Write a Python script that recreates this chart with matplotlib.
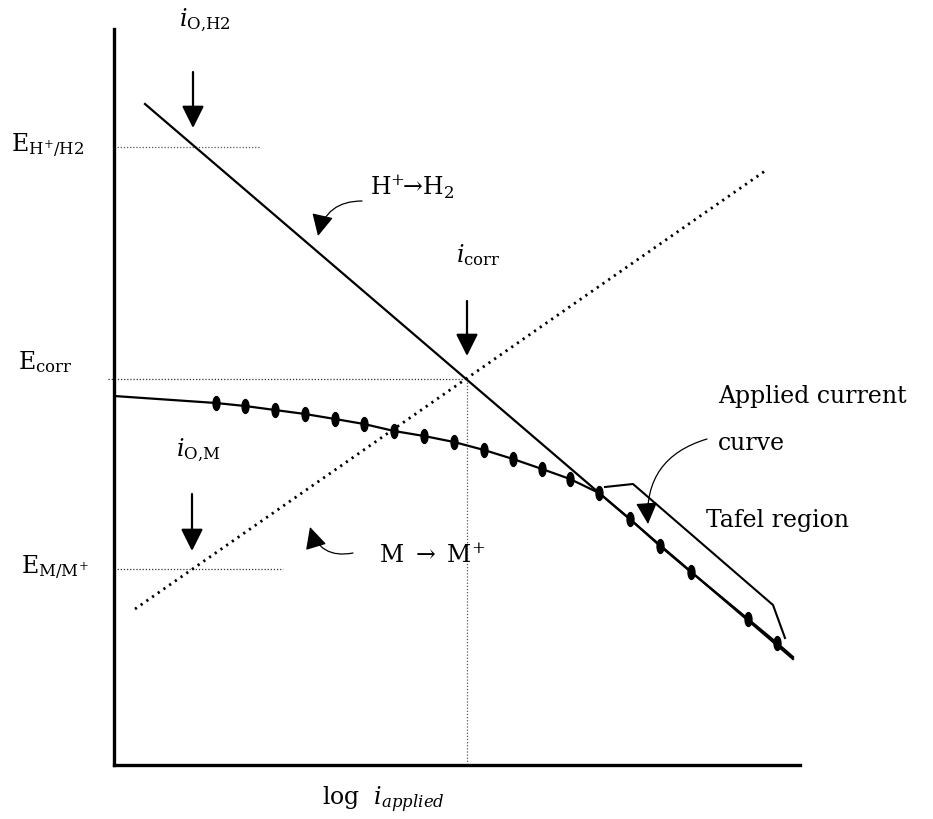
import numpy as np
import matplotlib.pyplot as plt
from matplotlib.path import Path
from matplotlib.transforms import Affine2D

plt.rcParams['font.family'] = ['DejaVu Serif']
plt.rcParams['mathtext.fontset'] = 'dejavuserif'

# schematic coordinates (x = log i, y = E, y grows downward like the sketch)
cathodic_x = [145, 793]          # H+ -> H2 Tafel line
cathodic_y = [105, 660]
anodic_x = [135, 765]            # M -> M+ line (dotted)
anodic_y = [610, 172]

applied_x = [114, 216, 245, 275, 305, 335, 364, 394, 424, 454, 484, 513, 542, 570, 599,
             630, 660, 691, 748, 777, 793]
applied_y = [397, 404, 407, 411, 415, 420, 425, 432, 437, 443, 451, 460, 470, 480, 494,
             520, 547, 573, 620, 644, 658]
dot_idx = list(range(1, 20))

applied_curve_x = [605, 633, 773, 785]   # "applied current curve" outline
applied_curve_y = [488, 485, 606, 639]

E_H = 148
E_corr = 380
E_M = 570
i_corr = 467
i_OH2 = 193
i_OM = 192

fig = plt.figure(figsize=(9.33, 8.2), dpi=100)
ax = fig.add_axes([114 / 933, (820 - 766) / 820, (800 - 114) / 933, (766 - 30) / 820])
ax.set_xlim(114, 800)
ax.set_ylim(766, 30)
for s in ['top', 'right']:
    ax.spines[s].set_visible(False)
for s in ['left', 'bottom']:
    ax.spines[s].set_linewidth(2.4)
ax.set_xticks([])
ax.set_yticks([])

# reference levels
dot_ls = (0, (1, 1.5))
ax.plot([114, 260], [E_H, E_H], color='#555555', lw=0.9, ls=dot_ls, clip_on=False)
ax.plot([108, i_corr], [E_corr, E_corr], color='#333333', lw=0.9, ls=dot_ls, clip_on=False)
ax.plot([114, 283], [E_M, E_M], color='#333333', lw=0.9, ls=dot_ls, clip_on=False)
ax.plot([i_corr, i_corr], [E_corr, 766], color='#555555', lw=0.9, ls=dot_ls)

# lines
ax.plot(cathodic_x, cathodic_y, color='black', lw=1.6)
ax.plot(anodic_x, anodic_y, color='black', lw=2.0, ls=(0, (0.8, 1.7)))
ax.plot(applied_x, applied_y, color='black', lw=1.6)
ax.plot(applied_curve_x, applied_curve_y, color='black', lw=1.5)

ell = Path.unit_circle().transformed(Affine2D().scale(0.5, 1.0))
ax.plot([applied_x[i] for i in dot_idx], [applied_y[i] for i in dot_idx], ls='none',
        marker=ell, ms=10, color='black')

# straight arrows
for x, y0, y1 in [(i_OH2, 73, 129), (i_corr, 302, 357), (i_OM, 495, 552)]:
    ax.annotate('', xy=(x, y1), xytext=(x, y0), annotation_clip=False,
                arrowprops=dict(arrowstyle='-|>,head_length=0.9,head_width=0.45',
                                color='black', lw=1.6, mutation_scale=15, shrinkA=0, shrinkB=0))

# curved arrows
curved = [((362, 202), (318, 237), 0.4), ((353, 554), (310, 528), -0.45), ((707, 440), (648, 525), 0.4)]
for start, tip, rad in curved:
    ax.annotate('', xy=tip, xytext=start, annotation_clip=False,
                arrowprops=dict(arrowstyle='-|>,head_length=0.9,head_width=0.45',
                                color='black', lw=0.9, mutation_scale=15, shrinkA=0, shrinkB=0,
                                connectionstyle='arc3,rad=%s' % rad))

fs = 17
kw = dict(fontsize=fs, ha='center', va='center', clip_on=False)
ax.text(205, 20, r'$i_{\mathrm{O{,}H2}}$', **kw)
ax.text(48, 146, r'$\mathrm{E}_{\mathrm{H}^{+}/\mathrm{H2}}$', **kw)
ax.text(412, 187, r'$\mathrm{H}^{+}\!\!\rightarrow\!\mathrm{H}_{2}$', **kw)
ax.text(478, 255, r'$i_{\mathrm{corr}}$', **kw)
ax.text(45, 362, r'$\mathrm{E}_{\mathrm{corr}}$', **kw)
ax.text(198, 450, r'$i_{\mathrm{O{,}M}}$', **kw)
ax.text(55, 568, r'$\mathrm{E}_{\mathrm{M/M}^{+}}$', **kw)
ax.text(432, 556, r'$\mathrm{M}\ \rightarrow\ \mathrm{M}^{+}$', **kw)
ax.text(718, 396, 'Applied current', fontsize=fs, ha='left', va='center', clip_on=False)
ax.text(718, 443, 'curve', fontsize=fs, ha='left', va='center', clip_on=False)
ax.text(706, 520, 'Tafel region', fontsize=fs, ha='left', va='center', clip_on=False)
ax.text(383, 800, r'$\mathrm{log}\ \ i_{applied}$', **kw)

fig.savefig('out.png', dpi=100)
